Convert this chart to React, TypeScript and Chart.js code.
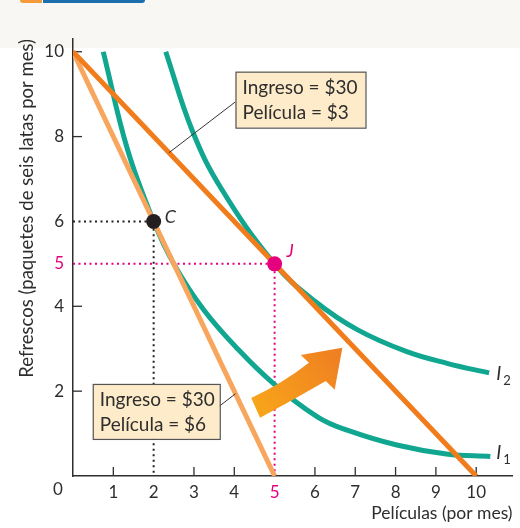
import React, { useEffect, useRef } from "react";
import { Chart, registerables } from "chart.js";

Chart.register(...registerables);

// ---------- data ----------
const xTicks = [0, 1, 2, 3, 4, 5, 6, 7, 8, 9, 10];
const yTicks = [2, 4, 5, 6, 8, 10];
const highlightTick = 5;

const budget3X = [0, 10];
const budget3Y = [10, 0];
const budget6X = [0, 5];
const budget6Y = [10, 0];

const i1X = [0.75, 1.35, 2, 2.5, 3.24, 4.1, 4.96, 6.07, 6.8, 8.03, 9.26, 10.35];
const i1Y = [10, 7.7, 6, 5, 3.92, 2.98, 2.19, 1.39, 1.08, 0.73, 0.52, 0.46];
const i2X = [2.3, 2.95, 3.66, 5, 6, 7.05, 8.28, 9.3, 10.32];
const i2Y = [10, 8.16, 6.8, 5, 4.12, 3.45, 2.93, 2.65, 2.43];

const pointC = [2, 6];
const pointJ = [5, 5];

const budget3Label = ["Ingreso = $30", "Película = $3"];
const budget6Label = ["Ingreso = $30", "Película = $6"];
const xTitle = "Películas (por mes)";
const yTitle = "Refrescos (paquetes de seis latas por mes)";

// ---------- styles ----------
const TEAL = "#10a690";
const DARK_ORANGE = "#f07c1c";
const LIGHT_ORANGE = "#f8a65e";
const PINK = "#e5007e";
const INK = "#2e2e2e";
const FONT = "Lato, 'Noto Sans', sans-serif";

const zip = (xs: number[], ys: number[]) => xs.map((x, i) => ({ x, y: ys[i] }));

const decorPlugin = {
  id: "decor",
  beforeDatasetsDraw(chart: any) {
    const { ctx, scales } = chart;
    const xs = scales.x;
    const ys = scales.y;
    const x0 = xs.getPixelForValue(0);
    const y0 = ys.getPixelForValue(0);
    ctx.save();
    ctx.strokeStyle = INK;
    ctx.lineWidth = 1.3;
    xTicks.forEach((t) => {
      if (t === 0 || t === pointC[0] || t === pointJ[0]) return;
      const px = xs.getPixelForValue(t);
      ctx.beginPath();
      ctx.moveTo(px, y0);
      ctx.lineTo(px, y0 - 9);
      ctx.stroke();
    });
    yTicks.forEach((t) => {
      if (t === pointC[1] || t === pointJ[1]) return;
      const py = ys.getPixelForValue(t);
      ctx.beginPath();
      ctx.moveTo(x0, py);
      ctx.lineTo(x0 + 9, py);
      ctx.stroke();
    });
    ctx.restore();
  },
  afterDatasetsDraw(chart: any) {
    const { ctx, scales, chartArea } = chart;
    const xs = scales.x;
    const ys = scales.y;
    const P = (a: number, b: number) => [xs.getPixelForValue(a), ys.getPixelForValue(b)];
    ctx.save();

    // big arrow
    const pts = [
      P(4.42, 1.84), // tail top
      P(5.21, 2.19), // ctrl
      P(5.85, 2.67), // notch upper
      P(5.65, 2.85), // wing left
      P(6.68, 3.02), // tip
      P(6.49, 2.03), // wing right
      P(6.27, 2.24), // notch lower
      P(5.45, 1.79), // ctrl
      P(4.64, 1.37), // tail bottom
    ];
    const g = ctx.createLinearGradient(pts[0][0], pts[8][1], pts[4][0], pts[4][1]);
    g.addColorStop(0, "#f8a81a");
    g.addColorStop(1, "#ef7d22");
    ctx.fillStyle = g;
    ctx.beginPath();
    ctx.moveTo(pts[0][0], pts[0][1]);
    ctx.quadraticCurveTo(pts[1][0], pts[1][1], pts[2][0], pts[2][1]);
    ctx.lineTo(pts[3][0], pts[3][1]);
    ctx.lineTo(pts[4][0], pts[4][1]);
    ctx.lineTo(pts[5][0], pts[5][1]);
    ctx.lineTo(pts[6][0], pts[6][1]);
    ctx.quadraticCurveTo(pts[7][0], pts[7][1], pts[8][0], pts[8][1]);
    ctx.closePath();
    ctx.fill();

    // annotation boxes with leader lines
    const drawBox = (anchor: number[], from: number[], to: number[], lines: string[], w: number, h: number) => {
      const [bx, by] = P(anchor[0], anchor[1]);
      const [fx, fy] = P(from[0], from[1]);
      const [tx, ty] = P(to[0], to[1]);
      ctx.strokeStyle = "#333";
      ctx.lineWidth = 1;
      ctx.beginPath();
      ctx.moveTo(fx, fy);
      ctx.lineTo(tx, ty);
      ctx.stroke();
      ctx.fillStyle = "#fdebc9";
      ctx.fillRect(bx, by, w, h);
      ctx.strokeStyle = "#555";
      ctx.lineWidth = 1.2;
      ctx.strokeRect(bx + 0.5, by + 0.5, w, h);
      ctx.fillStyle = INK;
      ctx.font = `19px ${FONT}`;
      ctx.textAlign = "left";
      ctx.textBaseline = "middle";
      ctx.fillText(lines[0], bx + 7, by + 16);
      ctx.fillText(lines[1], bx + 7, by + 41);
    };
    drawBox([4.03, 9.53], [2.38, 7.62], [4.03, 8.82], budget3Label, 130, 56);
    drawBox([0.49, 2.17], [4.03, 1.94], [3.61, 1.63], budget6Label, 127, 55);

    // point labels
    ctx.textAlign = "left";
    ctx.textBaseline = "middle";
    ctx.font = `italic 18px ${FONT}`;
    const [cx, cy] = P(pointC[0], pointC[1]);
    ctx.fillStyle = INK;
    ctx.fillText("C", cx + 11, cy - 4);
    const [jx, jy] = P(pointJ[0], pointJ[1]);
    ctx.fillStyle = PINK;
    ctx.fillText("J", jx + 12, jy - 13);

    // curve labels
    const curveLabel = (a: number, b: number, sub: string) => {
      const [lx, ly] = P(a, b);
      ctx.fillStyle = INK;
      ctx.font = `italic 19px ${FONT}`;
      ctx.fillText("I", lx, ly);
      ctx.font = `13px ${FONT}`;
      ctx.fillText(sub, lx + 7, ly + 7);
    };
    curveLabel(10.5, 2.4, "2");
    curveLabel(10.5, 0.55, "1");

    // origin label
    ctx.fillStyle = INK;
    ctx.font = `17px ${FONT}`;
    ctx.textAlign = "center";
    ctx.fillText("0", xs.getPixelForValue(0) - 15, chartArea.bottom + 14);

    ctx.restore();
  },
};

export default function App() {
  const ref = useRef<HTMLCanvasElement | null>(null);

  useEffect(() => {
    if (!ref.current) return;
    const chart = new Chart(ref.current, {
      type: "line",
      data: {
        datasets: [
          {
            label: "C",
            data: [{ x: pointC[0], y: pointC[1] }],
            showLine: false,
            pointRadius: 7.5,
            pointBackgroundColor: "#231f20",
            pointBorderWidth: 0,
          },
          {
            label: "J",
            data: [{ x: pointJ[0], y: pointJ[1] }],
            showLine: false,
            pointRadius: 7.5,
            pointBackgroundColor: PINK,
            pointBorderWidth: 0,
          },
          {
            label: "Película $3",
            data: zip(budget3X, budget3Y),
            borderColor: DARK_ORANGE,
            borderWidth: 5,
            pointRadius: 0,
          },
          {
            label: "Película $6",
            data: zip(budget6X, budget6Y),
            borderColor: LIGHT_ORANGE,
            borderWidth: 5,
            pointRadius: 0,
          },
          {
            label: "I2",
            data: zip(i2X, i2Y),
            borderColor: TEAL,
            borderWidth: 5,
            pointRadius: 0,
            tension: 0.4,
          },
          {
            label: "I1",
            data: zip(i1X, i1Y),
            borderColor: TEAL,
            borderWidth: 5,
            pointRadius: 0,
            tension: 0.4,
          },
          {
            label: "guide C",
            data: [
              { x: 0, y: pointC[1] },
              { x: pointC[0], y: pointC[1] },
              { x: pointC[0], y: 0 },
            ],
            borderColor: "#222",
            borderWidth: 2,
            borderDash: [2, 3.5],
            pointRadius: 0,
          },
          {
            label: "guide J",
            data: [
              { x: 0, y: pointJ[1] },
              { x: pointJ[0], y: pointJ[1] },
              { x: pointJ[0], y: 0 },
            ],
            borderColor: PINK,
            borderWidth: 2,
            borderDash: [2, 3.5],
            pointRadius: 0,
          },
        ],
      },
      options: {
        animation: false,
        responsive: false,
        devicePixelRatio: 1,
        layout: { padding: { left: 0, top: 39, right: 3, bottom: 0 } },
        plugins: { legend: { display: false }, tooltip: { enabled: false } },
        scales: {
          x: {
            type: "linear",
            min: 0,
            max: 10.9,
            afterBuildTicks: (s: any) => {
              s.ticks = xTicks.map((v) => ({ value: v }));
            },
            afterFit: (s: any) => {
              s.height = 52;
            },
            grid: { display: false, drawTicks: false },
            border: { display: true, color: INK, width: 1.5 },
            ticks: {
              padding: 6,
              font: { family: FONT, size: 17 },
              color: (c: any) => (c.tick && c.tick.value === highlightTick ? PINK : INK),
              callback: (v: any) => (v === 0 ? "" : String(v)),
            },
            title: {
              display: true,
              text: xTitle,
              align: "end",
              color: INK,
              font: { family: FONT, size: 17.5 },
              padding: { top: 2, bottom: 4 },
            },
          },
          y: {
            type: "linear",
            min: 0,
            max: 10.3,
            afterBuildTicks: (s: any) => {
              s.ticks = yTicks.map((v) => ({ value: v }));
            },
            afterFit: (s: any) => {
              s.width = 73;
            },
            grid: { display: false, drawTicks: false },
            border: { display: true, color: INK, width: 1.5 },
            ticks: {
              padding: 9,
              font: { family: FONT, size: 17 },
              color: (c: any) => (c.tick && c.tick.value === highlightTick ? PINK : INK),
            },
            title: {
              display: true,
              text: yTitle,
              align: "end",
              color: INK,
              font: { family: FONT, size: 18.5 },
              padding: { top: 16, bottom: 0 },
            },
          },
        },
      },
      plugins: [decorPlugin],
    } as any);
    return () => chart.destroy();
  }, []);

  return (
    <div
      style={{
        position: "absolute",
        left: 0,
        top: 0,
        width: 520,
        height: 528,
        background: "#ffffff",
        overflow: "hidden",
      }}
    >
      <div style={{ position: "absolute", left: 0, top: 0, width: 520, height: 48, background: "#f8f7f3" }} />
      <div
        style={{
          position: "absolute",
          left: 20,
          top: 0,
          width: 22,
          height: 3,
          background: "#f59b3a",
          borderBottomLeftRadius: 3,
        }}
      />
      <div
        style={{
          position: "absolute",
          left: 43,
          top: 0,
          width: 102,
          height: 3,
          background: "#1b6fae",
          borderBottomRightRadius: 3,
        }}
      />
      <canvas ref={ref} width={520} height={528} style={{ position: "absolute", left: 0, top: 0 }} />
    </div>
  );
}
